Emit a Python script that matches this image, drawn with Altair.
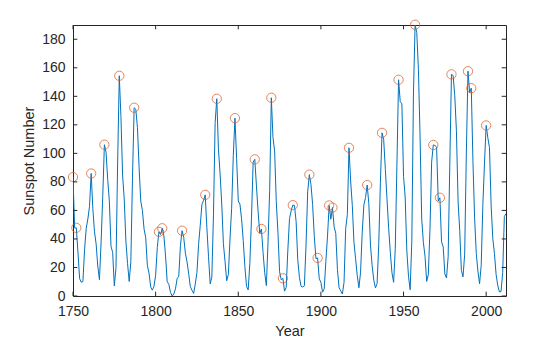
import altair as alt
import pandas as pd

start_year = 1749
sunspots = [
    80.9, 83.4, 47.7, 47.8, 30.7, 12.2, 9.6, 10.2, 32.4, 47.6, 54.0, 62.9, 85.9, 61.2, 45.1, 36.4, 20.9, 11.4,
    37.8, 69.8, 106.1, 100.8, 81.6, 66.5, 34.8, 30.6, 7.0, 19.8, 92.5, 154.4, 125.9, 84.8, 68.1, 38.5, 22.8,
    10.2, 24.1, 82.9, 132.0, 130.9, 118.1, 89.9, 66.6, 60.0, 46.9, 41.0, 21.3, 16.0, 6.4, 4.1, 6.8, 14.5,
    34.0, 45.0, 43.1, 47.5, 42.2, 28.1, 10.1, 8.1, 2.5, 0.0, 1.4, 5.0, 12.2, 13.9, 35.4, 45.8, 41.1, 30.1,
    23.9, 15.6, 6.6, 4.0, 1.8, 8.5, 16.6, 36.3, 49.6, 64.2, 67.0, 70.9, 47.8, 27.5, 8.5, 13.2, 56.9, 121.5,
    138.3, 103.2, 85.7, 64.6, 36.7, 24.2, 10.7, 15.0, 40.1, 61.5, 98.5, 124.7, 96.3, 66.6, 64.5, 54.1, 39.0,
    20.6, 6.7, 4.3, 22.7, 54.8, 93.8, 95.8, 77.2, 59.1, 44.0, 47.0, 30.5, 16.3, 7.3, 37.6, 74.0, 139.0,
    111.2, 101.6, 66.2, 44.7, 17.0, 11.3, 12.4, 3.4, 6.0, 32.3, 54.3, 59.7, 63.7, 63.5, 52.2, 25.4, 13.1,
    6.8, 6.3, 7.1, 35.6, 73.0, 85.1, 78.0, 64.0, 41.8, 26.2, 26.7, 12.1, 9.5, 2.7, 5.0, 24.4, 42.0, 63.5,
    53.8, 62.0, 48.5, 43.9, 18.6, 5.7, 3.6, 1.4, 9.6, 47.4, 57.1, 103.9, 80.6, 63.6, 37.6, 26.1, 14.2, 5.8,
    16.7, 44.3, 63.9, 69.0, 77.8, 64.9, 35.7, 21.2, 11.1, 5.7, 8.7, 36.1, 79.7, 114.4, 109.6, 88.8, 67.8,
    47.5, 30.6, 16.3, 9.6, 33.2, 92.6, 151.6, 136.3, 134.7, 83.9, 69.4, 31.5, 13.9, 4.4, 38.0, 141.7, 190.2,
    184.8, 159.0, 112.3, 53.9, 37.6, 27.9, 10.2, 15.1, 47.0, 93.8, 105.9, 105.5, 104.5, 66.6, 68.9, 38.0,
    34.5, 15.5, 12.6, 27.5, 92.5, 155.4, 154.6, 140.4, 115.9, 66.6, 45.9, 17.9, 13.4, 29.4, 100.2, 157.6,
    142.6, 145.7, 94.3, 54.6, 29.9, 17.5, 8.6, 21.5, 64.3, 93.3, 119.6, 111.0, 104.0, 63.7, 40.4, 29.8,
    15.2, 7.5, 2.9, 3.1, 16.5, 55.7, 57.7,
]
years = list(range(start_year, start_year + len(sunspots)))
peak_years = [1750, 1752, 1761, 1769, 1778, 1787, 1802, 1804, 1816, 1830, 1837, 1848, 1860, 1864, 1870,
              1877, 1883, 1893, 1898, 1905, 1907, 1917, 1928, 1937, 1947, 1957, 1968, 1972, 1979, 1989,
              1991, 2000]
x_ticks = [1750, 1800, 1850, 1900, 1950, 2000]
y_ticks = [0, 20, 40, 60, 80, 100, 120, 140, 160, 180]
x_domain = [1750, 2012]
y_domain = [0, 190]

df = pd.DataFrame({"Year": years, "Sunspots": sunspots})
lookup = dict(zip(years, sunspots))
peaks = pd.DataFrame({"Year": peak_years, "Sunspots": [lookup[y] for y in peak_years]})
xt = pd.DataFrame({"Year": x_ticks})
yt = pd.DataFrame({"Sunspots": y_ticks})

W, H = 433, 271
TL = 4.3
AX = "#262626"

xs = alt.Scale(domain=x_domain, nice=False, zero=False)
ys = alt.Scale(domain=y_domain, nice=False, zero=False)
x_axis = alt.Axis(values=x_ticks, format="d", ticks=False, domain=False, grid=False,
                  labelFlush=False, labelPadding=8, titlePadding=6)
y_axis = alt.Axis(values=y_ticks, ticks=False, domain=False, grid=False,
                  labelFlush=False, labelPadding=8, titlePadding=5)
X = alt.X("Year:Q", scale=xs, title="Year", axis=x_axis)
Y = alt.Y("Sunspots:Q", scale=ys, title="Sunspot Number", axis=y_axis)

line = alt.Chart(df).mark_line(color="#0072BD", strokeWidth=1, clip=True).encode(x=X, y=Y)
pts = alt.Chart(peaks).mark_point(shape="circle", filled=False, color="#D95319", size=86,
                                  strokeWidth=1).encode(x=X, y=Y)

bx = alt.Chart(xt).mark_rule(color=AX, strokeWidth=1).encode(x=X, y=alt.value(H), y2=alt.value(H - TL))
tx = alt.Chart(xt).mark_rule(color=AX, strokeWidth=1).encode(x=X, y=alt.value(0), y2=alt.value(TL))
ly = alt.Chart(yt).mark_rule(color=AX, strokeWidth=1).encode(y=Y, x=alt.value(0), x2=alt.value(TL))
ry = alt.Chart(yt).mark_rule(color=AX, strokeWidth=1).encode(y=Y, x=alt.value(W), x2=alt.value(W - TL))

chart = alt.layer(line, pts, bx, tx, ly, ry).properties(
    width=W, height=H,
    autosize=alt.AutoSizeParams(type="none"),
    padding={"left": 73, "top": 25, "right": 54, "bottom": 41},
    background="white",
).configure_view(stroke=AX, strokeWidth=1).configure_axis(
    labelFont="Liberation Sans", titleFont="Liberation Sans", labelFontSize=14, titleFontSize=14.5,
    titleFontWeight="normal", labelColor=AX, titleColor=AX,
)

chart.save("out.html", embed_options={"renderer": "svg", "actions": False})
